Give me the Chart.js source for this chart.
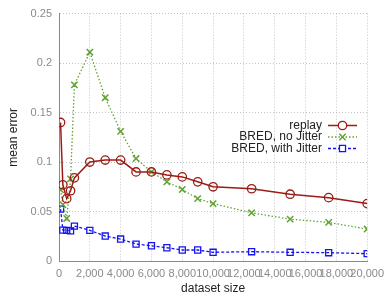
<!DOCTYPE html>
<html>
<head>
<meta charset="utf-8">
<script src="https://cdn.jsdelivr.net/npm/chart.js@4"></script>
<style>
  html, body { margin: 0; padding: 0; background: #fff; }
  #wrap { width: 390px; height: 296px; }
</style>
</head>
<body>
<div id="wrap"><canvas id="errChart" width="390" height="296"></canvas></div>
<script>
// dataset sizes (x) and mean errors per series
const sizes = [100, 250, 500, 750, 1000, 2000, 3000, 4000, 5000, 6000, 7000, 8000, 9000, 10000, 12500, 15000, 17500, 20000];
const replay = [0.140, 0.077, 0.063, 0.071, 0.084, 0.100, 0.102, 0.102, 0.090, 0.090, 0.087, 0.085, 0.080, 0.075, 0.073, 0.0675, 0.064, 0.058];
const noJitter = [0.072, 0.057, 0.043, 0.083, 0.178, 0.211, 0.165, 0.131, 0.1035, 0.090, 0.080, 0.0723, 0.063, 0.058, 0.0487, 0.0423, 0.039, 0.0323];
const withJitter = [0.0524, 0.0312, 0.031, 0.0305, 0.0353, 0.031, 0.0252, 0.0222, 0.0171, 0.0154, 0.0134, 0.0111, 0.0111, 0.0088, 0.0094, 0.0088, 0.0084, 0.0074];
const seriesNames = ['replay', 'BRED, no Jitter', 'BRED, with Jitter'];

const pts = (vals) => sizes.map((x, i) => ({ x: x, y: vals[i] }));

// gnuplot-style legend: text on the left, line sample + marker on the right
const gnuLegend = {
    id: 'gnuLegend',
    afterDraw(chart) {
        const ctx = chart.ctx;
        ctx.save();
        ctx.font = '12px "Liberation Sans", Arial, sans-serif';
        ctx.textAlign = 'right';
        ctx.textBaseline = 'middle';
        chart.data.datasets.forEach((ds, i) => {
            const y = 125.5 + i * 11.5;
            ctx.fillStyle = '#222';
            ctx.fillText(ds.label, 322, y);
            ctx.strokeStyle = ds.borderColor;
            ctx.lineWidth = ds.borderWidth;
            ctx.setLineDash(ds.borderDash || []);
            ctx.beginPath();
            ctx.moveTo(328, y);
            ctx.lineTo(357, y);
            ctx.stroke();
            ctx.setLineDash([]);
            ctx.fillStyle = '#ffffff';
            ctx.strokeStyle = ds.pointBorderColor;
            ctx.lineWidth = ds.pointBorderWidth;
            Chart.helpers.drawPoint(ctx, {
                pointStyle: ds.pointStyle,
                radius: ds.pointRadius,
                borderWidth: ds.pointBorderWidth
            }, 342.5, y);
        });
        ctx.restore();
    }
};

const ctx = document.getElementById('errChart');
window.errChart = new Chart(ctx, {
    type: 'line',
    data: {
        datasets: [
            {
                label: seriesNames[0],
                data: pts(replay),
                borderColor: '#9b1c14',
                borderWidth: 1.5,
                pointStyle: 'circle',
                pointRadius: 4.2,
                pointBorderWidth: 1.3,
                pointBackgroundColor: 'rgba(0,0,0,0)',
                pointBorderColor: '#9b1c14',
                fill: false
            },
            {
                label: seriesNames[1],
                data: pts(noJitter),
                borderColor: '#62a335',
                borderWidth: 1.3,
                borderDash: [1.5, 2],
                pointStyle: 'crossRot',
                pointRadius: 4.5,
                pointBorderWidth: 1.5,
                pointBorderColor: '#62a335',
                fill: false
            },
            {
                label: seriesNames[2],
                data: pts(withJitter),
                borderColor: '#1414f0',
                borderWidth: 1.3,
                borderDash: [3, 2],
                pointStyle: 'rect',
                pointRadius: 4.3,
                pointBorderWidth: 1.3,
                pointBackgroundColor: 'rgba(0,0,0,0)',
                pointBorderColor: '#1414f0',
                fill: false
            }
        ]
    },
    options: {
        responsive: false,
        animation: false,
        layout: { padding: { top: 13, right: 19, left: 6, bottom: 0 } },
        plugins: {
            legend: { display: false },
            tooltip: { enabled: false }
        },
        scales: {
            x: {
                type: 'linear',
                min: 0,
                max: 20000,
                afterFit: (s) => { s.height = 35; },
                grid: { color: '#c4c4c4', drawTicks: false },
                border: { color: '#8a8a8a', width: 1, dash: [1, 2] },
                ticks: {
                    stepSize: 2000,
                    autoSkip: false,
                    maxRotation: 0,
                    padding: 6,
                    color: '#8a8a8a',
                    font: { family: '"Liberation Sans", Arial, sans-serif', size: 11 }
                },
                title: {
                    display: true,
                    text: 'dataset size',
                    color: '#222',
                    padding: { top: 1, bottom: 0 },
                    font: { family: '"Liberation Sans", Arial, sans-serif', size: 12 }
                }
            },
            y: {
                min: 0,
                max: 0.25,
                afterFit: (s) => { s.width = 53; },
                grid: { color: '#c4c4c4', drawTicks: false },
                border: { color: '#8a8a8a', width: 1, dash: [1, 2] },
                ticks: {
                    stepSize: 0.05,
                    padding: 7,
                    color: '#8a8a8a',
                    font: { family: '"Liberation Sans", Arial, sans-serif', size: 11 },
                    callback: (v) => Number(v.toFixed(2)).toString()
                },
                title: {
                    display: true,
                    text: 'mean error',
                    color: '#222',
                    padding: { top: 0, bottom: 0 },
                    font: { family: '"Liberation Sans", Arial, sans-serif', size: 12 }
                }
            }
        }
    },
    plugins: [gnuLegend]
});
</script>
</body>
</html>
